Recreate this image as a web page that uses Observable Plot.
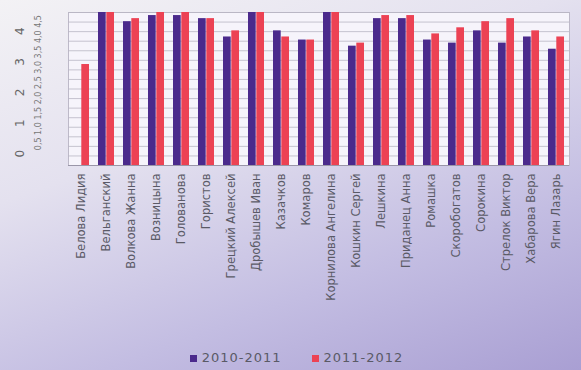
<!DOCTYPE html>
<html><head><meta charset="utf-8">
<script src="https://cdn.jsdelivr.net/npm/d3@7"></script>
<script src="https://cdn.jsdelivr.net/npm/@observablehq/plot@0.6"></script>
<style>
html,body{margin:0;padding:0;}
body{width:581px;height:370px;overflow:hidden;font-family:"DejaVu Sans",sans-serif;
background:linear-gradient(160deg,#f3f2f5 0%,#e4e1ef 35%,#c3bde2 70%,#a99fd3 100%);}
#legend{height:30px;display:flex;justify-content:center;align-items:center;gap:30px;font-size:13px;letter-spacing:1px;color:#5a5a66;padding-left:12px;padding-top:2px}
#legend span.sw{display:inline-block;width:7px;height:7px;margin-right:5px;vertical-align:middle}
</style></head><body>
<div id="chart"></div>
<div id="legend"></div>
<script>
const names = ["Белова Лидия","Вельганский","Волкова Жанна","Возницына","Голованова","Гористов","Грецкий Алексей","Дробышев Иван","Казачков","Комаров","Корнилова Ангелина","Кошкин Сергей","Лешкина","Приданец Анна","Ромашка","Скоробогатов","Сорокина","Стрелок Виктор","Хабарова Вера","Ягин Лазарь"];
const series = ["2010-2011","2011-2012"];
const v2010 = [null,5,4.7,4.9,4.9,4.8,4.2,5,4.4,4.1,5,3.9,4.8,4.8,4.1,4.0,4.4,4.0,4.2,3.8];
const v2011 = [3.3,5,4.8,5,5,4.8,4.4,5,4.2,4.1,5,4.0,4.9,4.9,4.3,4.5,4.7,4.8,4.4,4.2];
const colors = ["#4b2a8c","#ec4254"];
const yLabels = [0,1,2,3,4];

const rows2010 = names.map((n,i)=>({name:n, value:v2010[i]})).filter(d=>d.value!=null);
const rows2011 = names.map((n,i)=>({name:n, value:v2011[i]})).filter(d=>d.value!=null);
const gridTicks = d3.range(0,5.0001,5/16);
const halfTicks = d3.range(0.5,5,0.5);
const half = 8.3;

const chart = Plot.plot({
  width:581, height:340,
  marginLeft:68, marginRight:12, marginTop:12, marginBottom:175,
  style:{background:"transparent", fontFamily:"DejaVu Sans, sans-serif"},
  x:{domain:names, paddingInner:0.34, paddingOuter:0.1, label:null},
  y:{domain:[0,5], axis:null},
  marks:[
    Plot.frame({fill:"#f6f4fb", stroke:"#bdb9c8"}),
    Plot.gridY(gridTicks,{stroke:"#b9b6c4", strokeOpacity:0.8}),
    Plot.barY(rows2010,{x:"name", y:"value", fill:colors[0], insetRight:half}),
    Plot.barY(rows2011,{x:"name", y:"value", fill:colors[1], insetLeft:half}),
    Plot.ruleY([0],{stroke:"#9a96a8"}),
    Plot.axisX({tickRotate:-90, tickSize:0, tickPadding:8, fontSize:11.5, fill:"#5a5a66", label:null, textAnchor:"end"}),
    Plot.text(yLabels,{y:d=>d, text:d=>String(d), frameAnchor:"left", dx:-48, dy:-8, rotate:-90, fontSize:12, fill:"#666"}),
    Plot.text(halfTicks,{y:d=>d, text:d=>d3.format(".1f")(d).replace(".",","), frameAnchor:"left", dx:-30, rotate:-90, fontSize:8, fill:"#777"})
  ]
});
document.getElementById("chart").appendChild(chart);
const lg = document.getElementById("legend");
series.forEach((s,i)=>{
  const d=document.createElement("div");
  d.innerHTML=`<span class="sw" style="background:${colors[i]}"></span>${s}`;
  lg.appendChild(d);
});
</script>
</body></html>
